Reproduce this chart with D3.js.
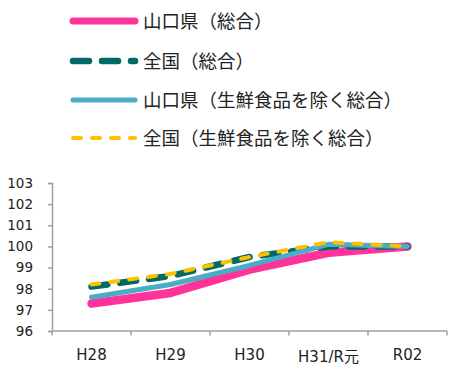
<!DOCTYPE html>
<html><head><meta charset="utf-8">
<script src="https://cdn.jsdelivr.net/npm/d3@7/dist/d3.min.js"></script>
<style>
html,body{margin:0;padding:0;background:#fff;}
svg{display:block;}
text{font-family:"DejaVu Sans","Noto Sans CJK JP",sans-serif;fill:#222;}
.lg{font-family:"Noto Sans CJK JP","DejaVu Sans",sans-serif;}
</style></head>
<body><svg id="c" width="449" height="365"></svg>
<script>
const categories = ["H28","H29","H30","H31/R元","R02"];
const yTicks = [96,97,98,99,100,101,102,103];
const seriesNames = ["山口県（総合）","全国（総合）","山口県（生鮮食品を除く総合）","全国（生鮮食品を除く総合）"];
const yamaguchiAll = [97.3, 97.8, 98.9, 99.7, 100.0];
const nationalAll = [98.1, 98.6, 99.5, 100.0, 100.0];
const yamaguchiCore = [97.6, 98.2, 99.1, 100.1, 100.0];
const nationalCore = [98.2, 98.7, 99.5, 100.2, 100.0];

const styles = [
  {color:"#FF3399", width:8.5, dash:null, legW:7},
  {color:"#006B66", width:6.5, dash:"16 13", legW:6.5},
  {color:"#4BACC6", width:5, dash:null, legW:5},
  {color:"#FFC000", width:4, dash:"8 11", legW:4}
];
const data = [yamaguchiAll, nationalAll, yamaguchiCore, nationalCore];

const svg = d3.select("#c");
const x = d3.scaleBand().domain(categories).range([52,447]).padding(0);
const y = d3.scaleLinear().domain([96,103]).range([331,183]);

// y axis
const yAxis = d3.axisLeft(y).tickValues(yTicks).tickSize(4).tickPadding(15).tickFormat(d3.format("d"));
const gy = svg.append("g").attr("transform","translate(52,0)").call(yAxis);
gy.select(".domain").attr("stroke","#A0A0A0").attr("stroke-width",1.5);
gy.selectAll(".tick line").attr("stroke","#A0A0A0").attr("stroke-width",1.5);
gy.selectAll(".tick text").attr("font-size",13.5).attr("fill","#222")
  .style("font-family","'DejaVu Sans',sans-serif");

// x axis: ticks at category boundaries
const gx = svg.append("g").attr("transform","translate(0,331)");
gx.append("line").attr("x1",x.range()[0]).attr("x2",x.range()[1]).attr("y1",0).attr("y2",0)
  .attr("stroke","#A0A0A0").attr("stroke-width",1.5);
const bounds = categories.map(c=>x(c)).concat([x.range()[1]]);
gx.selectAll("line.tk").data(bounds).enter().append("line").attr("class","tk")
  .attr("x1",d=>d).attr("x2",d=>d).attr("y1",0).attr("y2",4.5)
  .attr("stroke","#A0A0A0").attr("stroke-width",1.5);
gx.selectAll("text").data(categories).enter().append("text")
  .attr("x",d=>x(d)+x.bandwidth()/2).attr("y",d=>d.indexOf("元")>=0?31:29)
  .attr("text-anchor","middle").attr("font-size",15).text(d=>d);

// lines
const line = d3.line().x((d,i)=>x(categories[i])+x.bandwidth()/2).y(d=>y(d));
data.forEach((vals,k)=>{
  const s = styles[k];
  const p = svg.append("path").datum(vals).attr("d",line)
    .attr("fill","none").attr("stroke",s.color).attr("stroke-width",s.width)
    .attr("stroke-linecap","round").attr("stroke-linejoin","round");
  if (s.dash) p.attr("stroke-dasharray",s.dash);
});

// legend
const legY = [21,61,100,138];
seriesNames.forEach((name,k)=>{
  const s = styles[k];
  const l = svg.append("line").attr("x1",73).attr("x2",135).attr("y1",legY[k]).attr("y2",legY[k])
    .attr("stroke",s.color).attr("stroke-width",s.legW).attr("stroke-linecap","round");
  if (s.dash) l.attr("stroke-dasharray",s.dash);
  svg.append("text").attr("class","lg").attr("x",143).attr("y",legY[k])
    .attr("dy","0.36em").attr("font-size",18.5).text(name);
});
</script>
</body></html>
